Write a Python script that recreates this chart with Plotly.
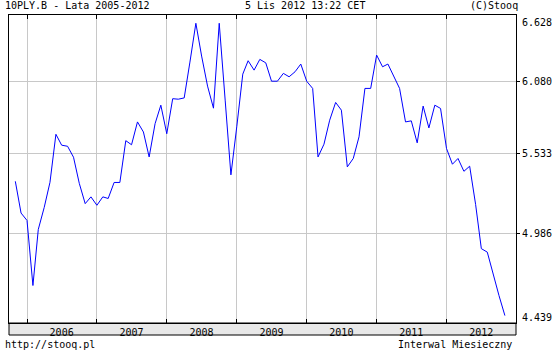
import math
import pandas as pd
import plotly.graph_objects as go

# Monthly closes, Nov 2005 .. Nov 2012
months = pd.date_range("2005-11-01", periods=85, freq="MS")
values = [
    5.338, 5.122, 5.073, 4.661, 5.014, 5.160, 5.331, 5.675, 5.595, 5.587,
    5.508, 5.324, 5.185, 5.231, 5.174, 5.231, 5.220, 5.330, 5.330, 5.628,
    5.598, 5.767, 5.692, 5.510, 5.754, 5.894, 5.679, 5.944, 5.940, 5.950,
    6.234, 6.557, 6.283, 6.042, 5.871, 6.557, 5.933, 5.383, 5.735, 6.137,
    6.245, 6.169, 6.256, 6.228, 6.081, 6.081, 6.143, 6.116, 6.156, 6.218,
    6.080, 6.024, 5.510, 5.602, 5.780, 5.915, 5.856, 5.439, 5.499, 5.656,
    6.024, 6.024, 6.291, 6.196, 6.218, 6.116, 6.024, 5.767, 5.775, 5.612,
    5.887, 5.722, 5.894, 5.869, 5.571, 5.458, 5.499, 5.408, 5.444, 5.180,
    4.890, 4.868, 4.722, 4.601, 4.482,
]
year_labels = ["2006", "2007", "2008", "2009", "2010", "2011", "2012"]
year_starts = [f"{y}-01-01" for y in year_labels]
year_mids = [f"{y}-07-01" for y in year_labels]
y_ticks = [4.986, 5.533, 6.080]
y_min, y_max = 4.439, 6.628

FONT = "DejaVu Sans Mono"
W, H = 560, 350
ML, MR, MT, MB = 8, 37, 15, 27
PH = H - MT - MB

fig = go.Figure()
fig.add_trace(go.Scatter(
    x=months, y=values, mode="lines",
    line=dict(color="#0000ff", width=1),
    hoverinfo="skip", showlegend=False,
))

fig.update_layout(
    width=W, height=H,
    margin=dict(l=ML, r=MR, t=MT, b=MB, pad=0),
    paper_bgcolor="white", plot_bgcolor="white",
    font=dict(family=FONT, size=10, color="black"),
    xaxis=dict(
        type="date", range=["2005-09-29", "2012-12-29"],
        tickmode="array", tickvals=year_mids, ticktext=year_labels,
        ticks="", showgrid=False, zeroline=False,
        showline=True, linecolor="black", linewidth=1, mirror="ticks",
        tickfont=dict(family=FONT, size=10, color="black"),
        ticklabelstandoff=0,
        minor=dict(tickmode="array", tickvals=year_starts, showgrid=True,
                   gridcolor="#c8c8c8", gridwidth=1, ticks="inside",
                   ticklen=4, tickcolor="black", tickwidth=1),
        fixedrange=True,
    ),
    yaxis=dict(
        type="log", side="right",
        range=[math.log10(y_min), math.log10(y_max)],
        tickmode="array", tickvals=y_ticks,
        ticktext=[f"{v:.3f}" for v in y_ticks],
        ticks="outside", ticklen=3, tickcolor="black",
        showgrid=True, gridcolor="#c8c8c8", gridwidth=1, zeroline=False,
        showline=True, linecolor="black", linewidth=1, mirror=True,
        tickfont=dict(family=FONT, size=10, color="black"),
        fixedrange=True,
    ),
)

# gray band holding the year labels
band_h = 12
fig.add_shape(type="rect", xref="paper", yref="paper",
              x0=0, x1=1, y0=-band_h / PH, y1=0,
              fillcolor="#e8e8e8", line=dict(color="black", width=1),
              layer="below")

ann = []
for v, shift in [(y_max, -7), (y_min, 6)]:
    ann.append(dict(text=f"{v:.3f}", xref="paper", yref="y", x=1,
                    y=math.log10(v), xanchor="left", yanchor="middle",
                    xshift=4, yshift=shift, showarrow=False,
                    font=dict(family=FONT, size=10, color="black")))

top_y = 1 + (MT - 5.5) / PH
ann += [
    dict(text="10PLY.B - Lata 2005-2012", xref="paper", yref="paper",
         x=-ML / (W - ML - MR) + 2 / (W - ML - MR), y=top_y,
         xanchor="left", yanchor="middle", showarrow=False),
    dict(text="5 Lis 2012 13:22 CET", xref="paper", yref="paper",
         x=(308.5 - ML) / (W - ML - MR), y=top_y,
         xanchor="center", yanchor="middle", showarrow=False),
    dict(text="(C)Stooq", xref="paper", yref="paper",
         x=(527 - ML) / (W - ML - MR), y=top_y,
         xanchor="right", yanchor="middle", showarrow=False),
]
bot_y = -(344 - MT - PH) / PH
ann += [
    dict(text="http://stooq.pl", xref="paper", yref="paper",
         x=-ML / (W - ML - MR) + 2 / (W - ML - MR), y=bot_y,
         xanchor="left", yanchor="middle", showarrow=False),
    dict(text="Interwal Miesieczny", xref="paper", yref="paper",
         x=(521 - ML) / (W - ML - MR), y=bot_y,
         xanchor="right", yanchor="middle", showarrow=False),
]
fig.update_layout(annotations=ann)

fig.write_html("out.html", config={"displayModeBar": False})
